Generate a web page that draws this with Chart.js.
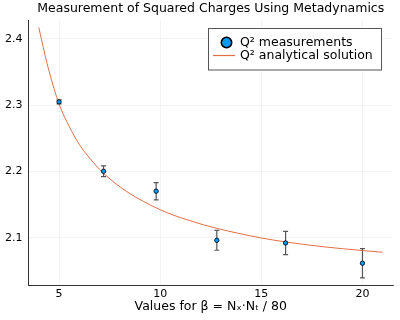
<!DOCTYPE html>
<html>
<head>
<meta charset="utf-8">
<script src="https://cdn.jsdelivr.net/npm/chart.js@4"></script>
<style>
  html, body { margin: 0; padding: 0; background: #fff; }
  #wrap { width: 400px; height: 320px; }
</style>
</head>
<body>
<div id="wrap"><canvas id="c" width="400" height="320"></canvas></div>
<script>
// ---- data ----
const chartTitle = "Measurement of Squared Charges Using Metadynamics";
const xAxisLabel = "Values for β = Nₓ·Nₜ / 80";
const seriesNames = ["Q² measurements", "Q² analytical solution"];

const betaValues = [5, 7.2, 9.8, 12.8, 16.2, 20];
const q2Measured = [2.305, 2.2005, 2.1705, 2.0965, 2.0925, 2.062];
const q2Errors   = [0.003, 0.008, 0.013, 0.015, 0.0175, 0.022];

const curveBeta = [4.0, 4.13, 4.5, 5.0, 5.5, 6.0, 6.52, 7.18, 8.34, 10.0, 11.47, 12.8, 15.0, 16.2, 18.0, 20.0, 21.0];
const curveQ2   = [2.417, 2.399, 2.352, 2.302, 2.268, 2.241, 2.220, 2.198, 2.170, 2.1425, 2.126, 2.1145, 2.100, 2.094, 2.087, 2.081, 2.0785];

const xTicks = [5, 10, 15, 20];
const yTicks = [2.1, 2.2, 2.3, 2.4];

// ---- styling ----
const FONT = "'DejaVu Sans', sans-serif";
const BLUE = "#009AFA";
const ORANGE = "#E26F46";

const measuredPts = betaValues.map((b, i) => ({ x: b, y: q2Measured[i] }));
const curvePts = curveBeta.map((b, i) => ({ x: b, y: curveQ2[i] }));

const errorBarPlugin = {
  id: 'errorBars',
  beforeDatasetsDraw(chart) {
    const ctx = chart.ctx;
    const xs = chart.scales.x, ys = chart.scales.y;
    ctx.save();
    ctx.strokeStyle = "#555";
    ctx.lineWidth = 1.2;
    betaValues.forEach((b, i) => {
      const px = xs.getPixelForValue(b);
      const top = ys.getPixelForValue(q2Measured[i] + q2Errors[i]);
      const bot = ys.getPixelForValue(q2Measured[i] - q2Errors[i]);
      ctx.beginPath();
      ctx.moveTo(px, top); ctx.lineTo(px, bot);
      ctx.moveTo(px - 2.5, top); ctx.lineTo(px + 2.5, top);
      ctx.moveTo(px - 2.5, bot); ctx.lineTo(px + 2.5, bot);
      ctx.stroke();
    });
    ctx.restore();
  }
};

const titleAndLegendPlugin = {
  id: 'titleAndLegend',
  afterDraw(chart) {
    const ctx = chart.ctx;
    const area = chart.chartArea;
    ctx.save();
    // title centred over the plot area
    ctx.fillStyle = "#000";
    ctx.font = "12.5px " + FONT;
    ctx.textAlign = "center";
    ctx.textBaseline = "middle";
    ctx.fillText(chartTitle, (area.left + area.right) / 2, 8.5);

    // legend box
    const bx = 208.5, by = 28.5, bw = 173, bh = 41.5;
    ctx.fillStyle = "#fff";
    ctx.fillRect(bx, by, bw, bh);
    ctx.strokeStyle = "#555";
    ctx.lineWidth = 1;
    ctx.strokeRect(bx, by, bw, bh);
    // marker
    ctx.beginPath();
    ctx.arc(226.5, 42.5, 5.2, 0, Math.PI * 2);
    ctx.fillStyle = BLUE; ctx.fill();
    ctx.strokeStyle = "#000"; ctx.lineWidth = 1.6; ctx.stroke();
    // line
    ctx.beginPath();
    ctx.moveTo(213, 55.5); ctx.lineTo(235, 55.5);
    ctx.strokeStyle = ORANGE; ctx.lineWidth = 1.2; ctx.stroke();
    ctx.fillStyle = "#000";
    ctx.font = "12.5px " + FONT;
    ctx.textAlign = "left";
    ctx.fillText(seriesNames[0], 240, 43);
    ctx.fillText(seriesNames[1], 240, 56);
    ctx.restore();
  }
};

new Chart(document.getElementById('c'), {
  type: 'scatter',
  data: {
    datasets: [
      {
        label: seriesNames[0],
        data: measuredPts,
        backgroundColor: BLUE,
        borderColor: "#000",
        borderWidth: 0.8,
        pointRadius: 2.2,
        showLine: false,
        order: 0
      },
      {
        label: seriesNames[1],
        data: curvePts,
        showLine: true,
        borderColor: ORANGE,
        borderWidth: 1,
        pointRadius: 0,
        cubicInterpolationMode: 'monotone',
        fill: false,
        order: 1
      }
    ]
  },
  options: {
    responsive: false,
    animation: false,
    devicePixelRatio: 1,
    layout: { padding: { left: 0, right: 7, top: 20, bottom: 0 } },
    plugins: {
      legend: { display: false },
      tooltip: { enabled: false },
      title: { display: false }
    },
    scales: {
      x: {
        type: 'linear',
        min: 3.49,
        max: 21.51,
        afterBuildTicks(scale) { scale.ticks = xTicks.map(v => ({ value: v })); },
        afterFit(scale) { scale.height = 34.5; },
        ticks: {
          color: "#000",
          font: { family: FONT, size: 11 },
          padding: 2,
          maxRotation: 0,
          callback: v => String(v)
        },
        grid: { color: "rgba(0,0,0,0.08)", lineWidth: 0.6, drawTicks: false },
        border: { display: true, color: "#333", width: 1 },
        title: {
          display: true,
          text: xAxisLabel,
          color: "#000",
          font: { family: FONT, size: 12.5 },
          padding: { top: 0, bottom: 6 }
        }
      },
      y: {
        type: 'linear',
        min: 2.0284,
        max: 2.4283,
        afterBuildTicks(scale) { scale.ticks = yTicks.map(v => ({ value: v })); },
        afterFit(scale) { scale.width = 28.5; },
        ticks: {
          color: "#000",
          font: { family: FONT, size: 11 },
          padding: 6,
          callback: v => v.toFixed(1)
        },
        grid: { color: "rgba(0,0,0,0.08)", lineWidth: 0.6, drawTicks: false },
        border: { display: true, color: "#333", width: 1 }
      }
    }
  },
  plugins: [errorBarPlugin, titleAndLegendPlugin]
});
</script>
</body>
</html>
